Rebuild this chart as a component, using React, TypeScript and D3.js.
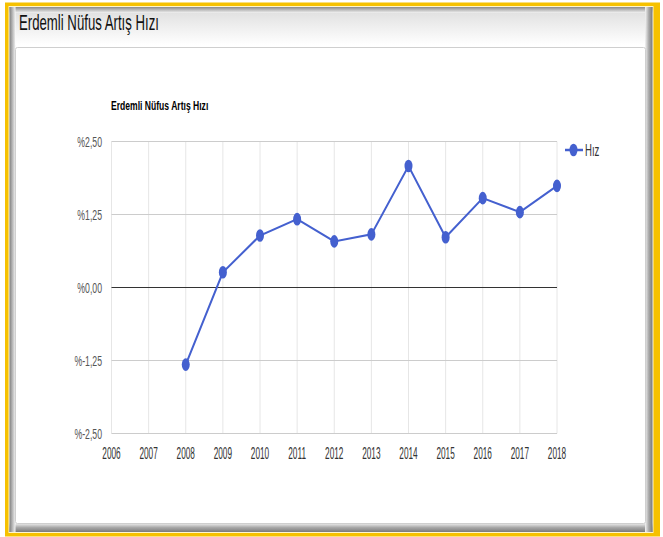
import React from "react";
import * as d3 from "d3";

const years = [2008, 2009, 2010, 2011, 2012, 2013, 2014, 2015, 2016, 2017, 2018];
const values = [-1.32, 0.26, 0.89, 1.17, 0.79, 0.91, 2.08, 0.86, 1.53, 1.29, 1.74];
const xTicks = [2006, 2007, 2008, 2009, 2010, 2011, 2012, 2013, 2014, 2015, 2016, 2017, 2018];
const yTicks = [-2.5, -1.25, 0, 1.25, 2.5];
const yTickLabels = ["%-2,50", "%-1,25", "%0,00", "%1,25", "%2,50"];
const pageTitle = "Erdemli Nüfus Artış Hızı";
const chartTitle = "Erdemli Nüfus Artış Hızı";
const seriesName = "Hız";

const W = 663;
const H = 537;
const COLOR = "#4460cf";

export default function App() {
  const x = d3.scaleLinear().domain([2006, 2018]).range([111.5, 557]);
  const y = d3.scaleLinear().domain([-2.5, 2.5]).range([433.5, 141.5]);
  const line = d3
    .line<number>()
    .x((_, i) => x(years[i]))
    .y((d) => y(d));

  return (
    <svg
      width={W}
      height={H}
      style={{ position: "absolute", left: 0, top: 0, fontFamily: "Arial, 'Liberation Sans', sans-serif" }}
    >
      <defs>
        <linearGradient id="hdr" x1="0" y1="0" x2="0" y2="1">
          <stop offset="0" stopColor="#e2e2e2" />
          <stop offset="1" stopColor="#ffffff" />
        </linearGradient>
        <linearGradient id="gTop" x1="0" y1="0" x2="0" y2="1">
          <stop offset="0" stopColor="#8a8a8a" />
          <stop offset="1" stopColor="#f2f2f2" />
        </linearGradient>
        <linearGradient id="gBottom" x1="0" y1="1" x2="0" y2="0">
          <stop offset="0" stopColor="#7a7a7a" />
          <stop offset="0.5" stopColor="#a8a8a8" />
          <stop offset="1" stopColor="#f4f4f4" />
        </linearGradient>
        <linearGradient id="gLeft" x1="0" y1="0" x2="1" y2="0">
          <stop offset="0" stopColor="#7f7f7f" />
          <stop offset="1" stopColor="#f2f2f2" />
        </linearGradient>
        <linearGradient id="gRight" x1="1" y1="0" x2="0" y2="0">
          <stop offset="0" stopColor="#7a7a7a" />
          <stop offset="0.5" stopColor="#aaaaaa" />
          <stop offset="1" stopColor="#f4f4f4" />
        </linearGradient>
      </defs>
      <rect x={0} y={0} width={W} height={H} fill="#ffffff" />
      {/* yellow frame */}
      <rect x={5} y={2.5} width={655} height={534} fill="#f6c100" />
      <rect x={8.5} y={6} width={645} height={527} fill="#fff6cc" />
      {/* gray panel with inner shadow */}
      <rect x={9.5} y={7} width={643} height={525} fill="#ffffff" />
      <rect x={9.5} y={7} width={643} height={6} fill="url(#gTop)" />
      <rect x={9.5} y={523} width={643} height={9} fill="url(#gBottom)" />
      <rect x={9.5} y={7} width={6} height={525} fill="url(#gLeft)" />
      <rect x={645} y={7} width={7.5} height={525} fill="url(#gRight)" />
      {/* header gradient */}
      <rect x={15.5} y={13} width={629.5} height={32} fill="url(#hdr)" />
      <text transform="translate(19,30) scale(0.6,1)" fontSize={22} fill="#111">
        {pageTitle}
      </text>
      {/* card */}
      <rect x={15.5} y={47.5} width={630} height={476} fill="#ffffff" stroke="#cfcfcf" strokeWidth={1} rx={2} />

      {/* chart title */}
      <text transform="translate(111,110) scale(0.66,1)" fontSize={13} fontWeight="bold" fill="#000">
        {chartTitle}
      </text>

      {/* vertical gridlines */}
      {xTicks.map((t) => (
        <line key={"vx" + t} x1={x(t)} x2={x(t)} y1={y(2.5)} y2={y(-2.5)} stroke="#e6e6e6" strokeWidth={1} />
      ))}
      {/* horizontal gridlines */}
      {yTicks.map((t) => (
        <line
          key={"hy" + t}
          x1={x(2006)}
          x2={x(2018)}
          y1={y(t)}
          y2={y(t)}
          stroke={t === 0 ? "#333333" : "#cccccc"}
          strokeWidth={1}
        />
      ))}
      {/* y tick labels */}
      {yTicks.map((t, i) => (
        <text
          key={"yl" + t}
          transform={`translate(102,${y(t) + 5}) scale(0.58,1)`}
          textAnchor="end"
          fontSize={15}
          fill="#555"
        >
          {yTickLabels[i]}
        </text>
      ))}
      {/* x tick labels */}
      {xTicks.map((t) => (
        <text
          key={"xl" + t}
          transform={`translate(${x(t)},458.5) scale(0.5,1)`}
          textAnchor="middle"
          fontSize={16.5}
          fill="#333"
        >
          {String(t)}
        </text>
      ))}

      {/* series */}
      <path d={line(values) || ""} fill="none" stroke={COLOR} strokeWidth={2} />
      {values.map((v, i) => (
        <ellipse key={"pt" + i} cx={x(years[i])} cy={y(v)} rx={4} ry={6.3} fill={COLOR} />
      ))}

      {/* legend */}
      <line x1={565} x2={583} y1={150} y2={150} stroke={COLOR} strokeWidth={2.5} />
      <ellipse cx={573.5} cy={150} rx={4} ry={6.3} fill={COLOR} />
      <text transform="translate(585,155.5) scale(0.6,1)" fontSize={16} fill="#333">
        {seriesName}
      </text>
    </svg>
  );
}
